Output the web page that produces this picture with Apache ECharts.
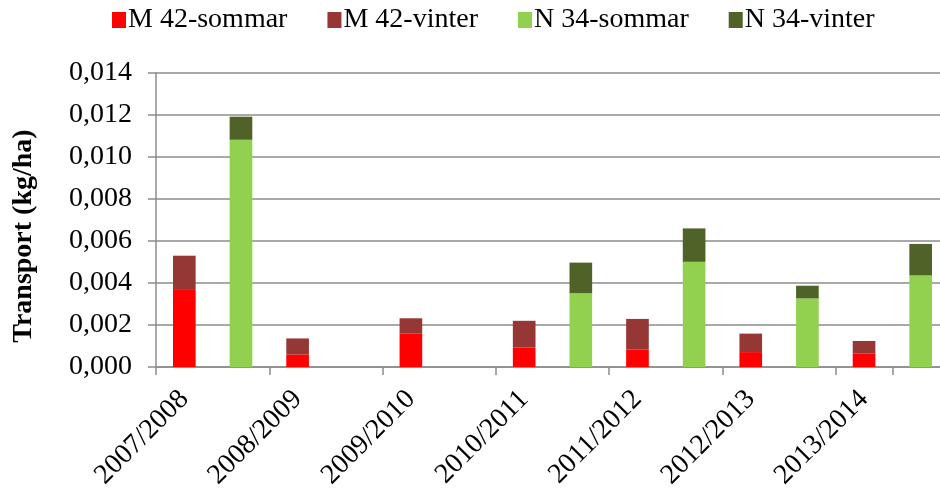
<!DOCTYPE html>
<html>
<head>
<meta charset="utf-8">
<script src="https://cdn.jsdelivr.net/npm/echarts@6/dist/echarts.min.js"></script>
<style>
  html, body { margin: 0; padding: 0; background: #fff; }
  #chart { width: 940px; height: 488px; }
</style>
</head>
<body>
<div id="chart"></div>
<script>
// säsonger (en M 42-stapel och en N 34-stapel per säsong)
const years = ['2007/2008', '2008/2009', '2009/2010', '2010/2011', '2011/2012', '2012/2013', '2013/2014'];
const m42Sommar = [0.00367, 0.00060, 0.00160, 0.00092, 0.00084, 0.00071, 0.00065];
const m42Vinter = [0.00163, 0.00076, 0.00072, 0.00128, 0.00145, 0.00088, 0.00059];
const n34Sommar = [0.01082, null, null, 0.00352, 0.00501, 0.00327, 0.00436];
const n34Vinter = [0.00110, null, null, 0.00145, 0.00159, 0.00060, 0.00150];
const yTicks = { min: 0, max: 0.014, step: 0.002 };

// varje säsong får två platser på kategoriaxeln: M först, N sedan
const categories = [];
years.forEach((y) => { categories.push(y, ''); });
const slot = (arr, offset) => {
  const out = [];
  years.forEach((y, i) => {
    const v = arr[i] == null ? '-' : arr[i];
    out.push(offset === 0 ? v : '-');
    out.push(offset === 1 ? v : '-');
  });
  return out;
};

const font = 'Liberation Serif, Times New Roman, serif';
const gridColor = '#8c8c8c';

const chart = echarts.init(document.getElementById('chart'));
chart.setOption({
  backgroundColor: '#fff',
  animation: false,
  legend: {
    top: 1,
    left: 107,
    itemGap: 40,
    itemWidth: 14,
    itemHeight: 16,
    icon: 'rect',
    textStyle: { fontFamily: font, fontSize: 28, color: '#000', padding: [0, 0, 0, -3] },
    data: ['M 42-sommar', 'M 42-vinter', 'N 34-sommar', 'N 34-vinter']
  },
  grid: { left: 156, right: -9, top: 73, bottom: 121, containLabel: false, outerBoundsMode: 'none' },
  xAxis: {
    type: 'category',
    data: categories,
    boundaryGap: true,
    axisLine: { lineStyle: { color: gridColor, width: 1.5 } },
    axisTick: { show: true, interval: 1, length: 8, lineStyle: { color: gridColor, width: 1.5 } },
    axisLabel: {
      interval: 0,
      rotate: 45,
      margin: 28,
      fontFamily: font,
      fontSize: 28,
      color: '#000'
    },
    splitLine: { show: false }
  },
  yAxis: {
    type: 'value',
    min: yTicks.min,
    max: yTicks.max,
    interval: yTicks.step,
    name: 'Transport (kg/ha)',
    nameLocation: 'middle',
    nameRotate: 90,
    nameGap: 118,
    nameTextStyle: { fontFamily: font, fontSize: 28, fontWeight: 'bold', color: '#000', padding: [0, 32, 0, 0] },
    axisLine: { show: true, lineStyle: { color: gridColor, width: 1.5 } },
    axisTick: { show: true, inside: false, length: 8, lineStyle: { color: gridColor, width: 1.5 } },
    axisLabel: {
      margin: 24,
      fontFamily: font,
      fontSize: 28,
      color: '#000',
      formatter: (v) => v.toFixed(3).replace('.', ',')
    },
    splitLine: { lineStyle: { color: gridColor, width: 1.5 } }
  },
  series: [
    { name: 'M 42-sommar', type: 'bar', stack: 'alla', barWidth: '40%', itemStyle: { color: '#ff0000' }, data: slot(m42Sommar, 0) },
    { name: 'M 42-vinter', type: 'bar', stack: 'alla', barWidth: '40%', itemStyle: { color: '#953735' }, data: slot(m42Vinter, 0) },
    { name: 'N 34-sommar', type: 'bar', stack: 'alla', barWidth: '40%', itemStyle: { color: '#92d050' }, data: slot(n34Sommar, 1) },
    { name: 'N 34-vinter', type: 'bar', stack: 'alla', barWidth: '40%', itemStyle: { color: '#4f6228' }, data: slot(n34Vinter, 1) }
  ]
});
</script>
</body>
</html>
